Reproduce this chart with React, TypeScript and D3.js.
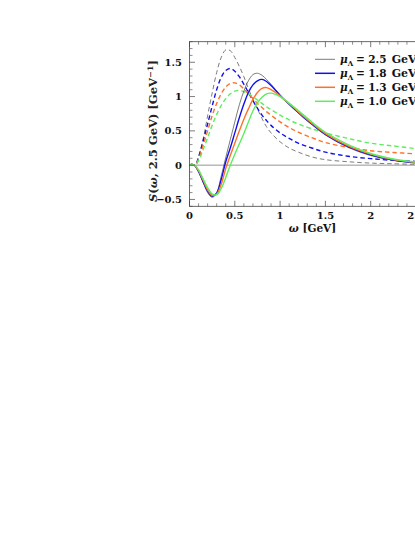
import React from "react";
import * as d3 from "d3";

// ---- data ----
const omegaSolid = [0, 0.03, 0.06, 0.1, 0.15, 0.2, 0.25, 0.3, 0.35, 0.4, 0.45, 0.5, 0.55, 0.6, 0.65, 0.7, 0.75, 0.8, 0.85, 0.9, 1.0, 1.05, 1.15, 1.25, 1.35, 1.5, 1.75, 2.0, 2.25, 2.5];
const solid25 = [0, 0.012, -0.01, -0.1, -0.25, -0.4, -0.47, -0.4, -0.16, 0.11, 0.37, 0.63, 0.88, 1.08, 1.23, 1.32, 1.34, 1.31, 1.25, 1.18, 1.02, 0.95, 0.82, 0.7, 0.59, 0.44, 0.26, 0.14, 0.07, 0.03];
const solid18 = [0, 0.012, -0.01, -0.09, -0.24, -0.38, -0.455, -0.41, -0.21, 0.05, 0.25, 0.47, 0.69, 0.89, 1.06, 1.17, 1.23, 1.25, 1.22, 1.16, 1.02, 0.95, 0.83, 0.71, 0.6, 0.45, 0.27, 0.15, 0.075, 0.035];
const solid13 = [0, 0.01, -0.01, -0.08, -0.22, -0.36, -0.44, -0.42, -0.28, -0.05, 0.14, 0.32, 0.5, 0.67, 0.82, 0.96, 1.06, 1.12, 1.13, 1.1, 1.01, 0.95, 0.84, 0.72, 0.61, 0.46, 0.28, 0.16, 0.08, 0.04];
const solid10 = [0, 0.01, -0.005, -0.07, -0.2, -0.33, -0.42, -0.43, -0.34, -0.18, 0, 0.16, 0.31, 0.46, 0.63, 0.79, 0.91, 0.99, 1.04, 1.05, 1.0, 0.955, 0.85, 0.74, 0.63, 0.48, 0.3, 0.17, 0.09, 0.045];

const omegaDashed = [0.08, 0.12, 0.16, 0.2, 0.25, 0.3, 0.35, 0.4, 0.45, 0.5, 0.55, 0.6, 0.65, 0.7, 0.75, 0.8, 0.85, 0.9, 1.0, 1.1, 1.2, 1.35, 1.5, 1.75, 2.0, 2.25, 2.5];
const dashed25 = [0.04, 0.22, 0.44, 0.72, 1.05, 1.35, 1.57, 1.68, 1.67, 1.57, 1.44, 1.29, 1.12, 0.96, 0.82, 0.68, 0.56, 0.47, 0.34, 0.25, 0.19, 0.12, 0.08, 0.05, 0.03, 0.02, 0.012];
const dashed18 = [0.03, 0.2, 0.4, 0.6, 0.86, 1.1, 1.28, 1.38, 1.41, 1.37, 1.29, 1.18, 1.06, 0.94, 0.83, 0.73, 0.65, 0.58, 0.47, 0.39, 0.32, 0.25, 0.19, 0.13, 0.095, 0.07, 0.055];
const dashed13 = [0.03, 0.16, 0.33, 0.5, 0.72, 0.9, 1.04, 1.14, 1.19, 1.2, 1.17, 1.11, 1.04, 0.97, 0.9, 0.84, 0.78, 0.73, 0.63, 0.55, 0.48, 0.4, 0.33, 0.26, 0.21, 0.185, 0.165];
const dashed10 = [0.02, 0.12, 0.26, 0.4, 0.58, 0.74, 0.87, 0.97, 1.04, 1.08, 1.09, 1.07, 1.04, 1.0, 0.95, 0.9, 0.85, 0.81, 0.73, 0.66, 0.6, 0.53, 0.47, 0.39, 0.32, 0.28, 0.24];

const muLabels = ["2.5", "1.8", "1.3", "1.0"];
const xMajor = [0, 0.5, 1, 1.5, 2, 2.5];
const yMajor = [-0.5, 0, 0.5, 1, 1.5];

const colors = ["#5a5a5a", "#1010ee", "#ff7028", "#5cee5c"];
const widths = [0.8, 1.4, 1.4, 1.4];

export default function App() {
  const W = 415, H = 537;
  const x = d3.scaleLinear().domain([0, 2.5]).range([189.5, 416]);
  const y = d3.scaleLinear().domain([-0.6, 1.8]).range([206.3, 41.7]);
  const line = d3
    .line<[number, number]>()
    .x((d) => x(d[0]))
    .y((d) => y(d[1]))
    .curve(d3.curveCatmullRom.alpha(0.5));

  const solids = [solid25, solid18, solid13, solid10];
  const dashes = [dashed25, dashed18, dashed13, dashed10];

  const xMinor = d3.range(0, 25).map((i) => i / 10).filter((v) => Math.abs(v * 2 - Math.round(v * 2)) > 1e-6);
  const yMinor = d3.range(-6, 19).map((i) => i / 10).filter((v) => Math.abs(v * 2 - Math.round(v * 2)) > 1e-6);

  const font = "'DejaVu Serif', serif";
  const axisColor = "#444";
  const fmt = (v: number) => (v < 0 ? "\u2212" + Math.abs(v) : String(v));

  const [x0, x1] = x.range();
  const [yb, yt] = y.range();

  return (
    <svg
      width={W}
      height={H}
      style={{ position: "absolute", left: 0, top: 0, background: "#fff" }}
      fontFamily={font}
    >
      <defs>
        <clipPath id="plot">
          <rect x={x0} y={yt} width={x1 - x0} height={yb - yt} />
        </clipPath>
      </defs>
      <rect x={0} y={0} width={W} height={H} fill="#fff" />

      {/* zero line */}
      <line x1={x0} x2={x1} y1={y(0)} y2={y(0)} stroke="#8a8a8a" strokeWidth={0.9} />

      <g clipPath="url(#plot)" fill="none">
        {dashes.map((ys, i) => (
          <path
            key={"d" + i}
            d={line(omegaDashed.map((o, j) => [o, ys[j]] as [number, number])) || ""}
            stroke={colors[i]}
            strokeWidth={widths[i]}
            strokeDasharray="4.5,3"
          />
        ))}
        {solids.map((ys, i) => (
          <path
            key={"s" + i}
            d={line(omegaSolid.map((o, j) => [o, ys[j]] as [number, number])) || ""}
            stroke={colors[i]}
            strokeWidth={widths[i]}
          />
        ))}
      </g>

      {/* frame */}
      <rect x={x0} y={yt} width={x1 - x0} height={yb - yt} fill="none" stroke={axisColor} strokeWidth={0.8} />

      {/* x ticks */}
      {xMajor.map((v) => (
        <g key={"xm" + v}>
          <line x1={x(v)} x2={x(v)} y1={yb} y2={yb - 5.5} stroke={axisColor} strokeWidth={0.7} />
          <line x1={x(v)} x2={x(v)} y1={yt} y2={yt + 5.5} stroke={axisColor} strokeWidth={0.7} />
          <text x={x(v)} y={218.5} textAnchor="middle" fontSize={10} fontWeight="bold" fill="#111">
            {fmt(v)}
          </text>
        </g>
      ))}
      {xMinor.map((v) => (
        <g key={"xn" + v}>
          <line x1={x(v)} x2={x(v)} y1={yb} y2={yb - 3} stroke={axisColor} strokeWidth={0.6} />
          <line x1={x(v)} x2={x(v)} y1={yt} y2={yt + 3} stroke={axisColor} strokeWidth={0.6} />
        </g>
      ))}

      {/* y ticks */}
      {yMajor.map((v) => (
        <g key={"ym" + v}>
          <line x1={x0} x2={x0 + 5.5} y1={y(v)} y2={y(v)} stroke={axisColor} strokeWidth={0.7} />
          <text x={182} y={y(v) + 3.6} textAnchor="end" fontSize={10} fontWeight="bold" fill="#111">
            {fmt(v)}
          </text>
        </g>
      ))}
      {yMinor.map((v) => (
        <line key={"yn" + v} x1={x0} x2={x0 + 3} y1={y(v)} y2={y(v)} stroke={axisColor} strokeWidth={0.6} />
      ))}

      {/* axis titles */}
      <text x={312.5} y={232} textAnchor="middle" fontSize={10.5} fontWeight="bold" fill="#111">
        <tspan fontStyle="italic">ω</tspan> [GeV]
      </text>
      <text
        transform={`translate(157,131) rotate(-90)`}
        textAnchor="middle"
        fontSize={10.5}
        fontWeight="bold"
        fill="#222"
        textLength={142}
        lengthAdjust="spacingAndGlyphs"
      >
        <tspan fontStyle="italic">S</tspan>(<tspan fontStyle="italic">ω</tspan>, 2.5 GeV)  [GeV
        <tspan dy={-4} fontSize={7.5}>−1</tspan>
        <tspan dy={4}>]</tspan>
      </text>

      {/* legend */}
      {muLabels.map((m, i) => {
        const cy = 59.3 + i * 14;
        return (
          <g key={"lg" + i}>
            <line x1={315} x2={335} y1={cy} y2={cy} stroke={colors[i]} strokeWidth={i === 0 ? 0.8 : 1.5} />
            <text x={340} y={cy + 3.7} fontSize={10.5} fontWeight="bold" fill="#111">
              <tspan fontStyle="italic">μ</tspan>
              <tspan dy={2.5} fontSize={7}>Λ</tspan>
              <tspan dy={-2.5} x={356}>=</tspan>
              <tspan x={368.3}>{m}</tspan>
              <tspan x={391.7} fontSize={11}>GeV</tspan>
            </text>
          </g>
        );
      })}
    </svg>
  );
}
